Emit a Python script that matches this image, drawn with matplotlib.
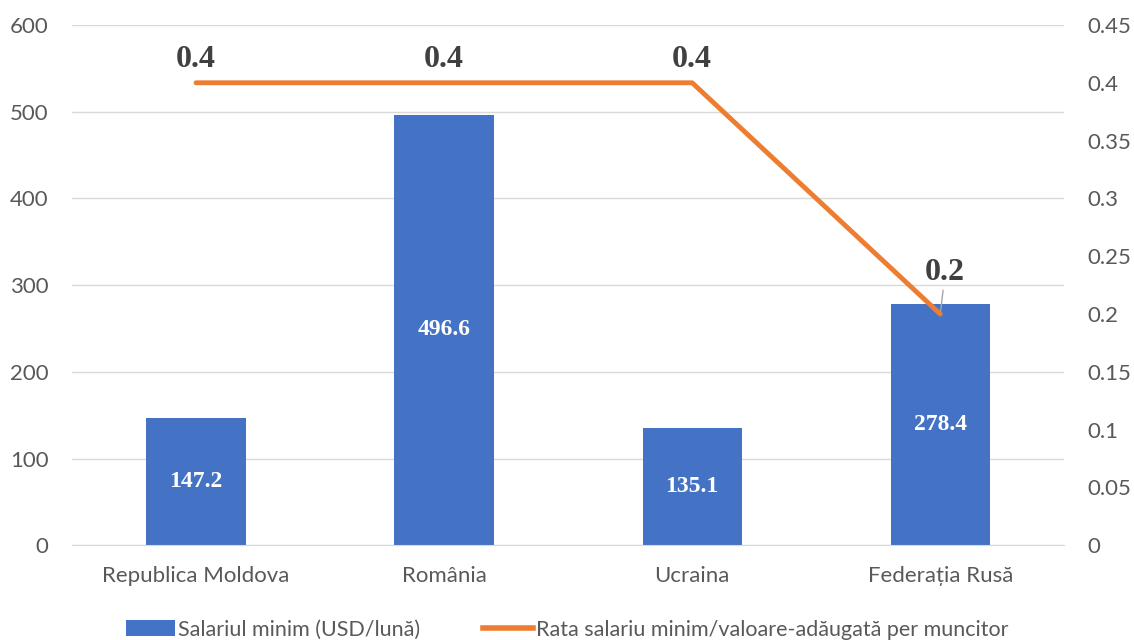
import numpy as np
import matplotlib.pyplot as plt
from matplotlib.lines import Line2D
from matplotlib.patches import Patch

countries = ["Republica Moldova", "România", "Ucraina", "Federația Rusă"]
salary = [147.2, 496.6, 135.1, 278.4]
ratio = [0.4, 0.4, 0.4, 0.2]

blue = "#4472C4"
orange = "#ED7D31"
grey = "#595959"
tick_font = "Lato"

fig = plt.figure(figsize=(11.34, 6.4), dpi=100)
ax = fig.add_axes([0.0635, 0.148, 0.875, 0.813])
ax2 = ax.twinx()

x = np.arange(len(countries))
bars = ax.bar(x, salary, width=0.4, color=blue, zorder=2)
ax.set_ylim(0, 600)
ax.set_yticks(np.arange(0, 601, 100))
ax.set_xlim(-0.5, len(countries) - 0.5)
ax.set_xticks(x)
ax.set_xticklabels(countries)
ax.grid(axis="y", color="#d9d9d9", linewidth=1, zorder=0)
ax.set_axisbelow(True)

for b, v in zip(bars, salary):
    ax.text(b.get_x() + b.get_width() / 2, v / 2, f"{v:.1f}", ha="center", va="center",
            color="white", fontsize=17, fontweight="bold", family="Liberation Serif")

ax2.plot(x, ratio, color=orange, linewidth=3.5, solid_capstyle="round", zorder=3)
ax2.set_ylim(0, 0.45)
ax2.set_yticks(np.arange(0, 0.451, 0.05))
ax2.set_yticklabels(["0", "0.05", "0.1", "0.15", "0.2", "0.25", "0.3", "0.35", "0.4", "0.45"])

for i, r in enumerate(ratio[:3]):
    ax2.text(x[i], r + 0.008, f"{r:.1f}", ha="center", va="bottom", color="#404040",
             fontsize=23, fontweight="bold", family="Liberation Serif")
# last point label sits higher, with a short leader line
ax2.annotate(f"{ratio[3]:.1f}", xy=(x[3], ratio[3]), xytext=(x[3] + 0.02, ratio[3] + 0.023),
             ha="center", va="bottom", color="#404040", fontsize=23, fontweight="bold",
             family="Liberation Serif",
             arrowprops=dict(arrowstyle="-", color="#a6a6a6", linewidth=1, shrinkA=0, shrinkB=2))

for a in (ax, ax2):
    for s in a.spines.values():
        s.set_visible(False)
    a.tick_params(length=0, labelsize=16, labelcolor=grey)
    for lab in a.get_xticklabels() + a.get_yticklabels():
        lab.set_family(tick_font)
ax.spines["bottom"].set_visible(True)
ax.spines["bottom"].set_color("#d9d9d9")
ax.tick_params(axis="y", pad=17)
ax.tick_params(axis="x", pad=15)
ax2.tick_params(axis="y", pad=17)

handles = [Patch(facecolor=blue, label="Salariul minim (USD/lună)"),
           Line2D([0], [0], color=orange, linewidth=4, label="Rata salariu minim/valoare-adăugată per muncitor")]
fig.legend(handles=handles, loc="lower center", bbox_to_anchor=(0.5, -0.03), ncol=2, frameon=False,
           prop={"family": tick_font, "size": 15.5}, labelcolor=grey, handlelength=2.3,
           handleheight=0.75, handletextpad=0.15, columnspacing=2.9)

fig.savefig("out.png", dpi=100)
